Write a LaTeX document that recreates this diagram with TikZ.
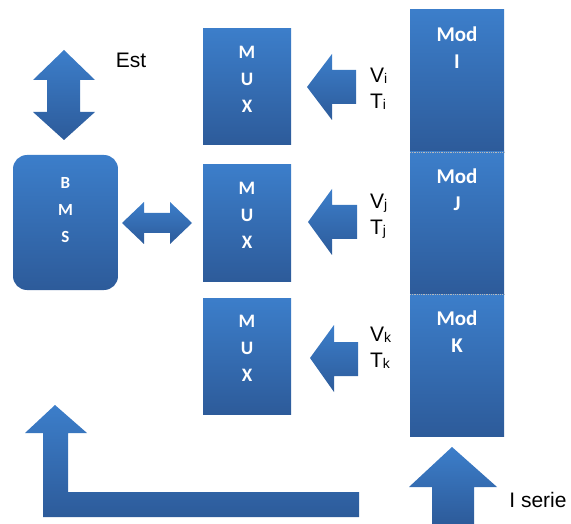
\documentclass[tikz,border=0pt]{standalone}
\usepackage{fontspec}
\setmainfont{Liberation Sans}
\newfontfamily\boxfont{Carlito}
\usetikzlibrary{positioning}
\definecolor{blocktop}{RGB}{60,126,202}
\definecolor{blockbot}{RGB}{45,91,154}
\newcommand{\smallsub}[1]{\raisebox{-1pt}{\fontsize{14}{14}\selectfont #1}}

\begin{document}
\begin{tikzpicture}[
    x=1pt, y=-1pt,
    every node/.style={inner sep=0pt, outer sep=0pt},
    block/.style={top color=blocktop, bottom color=blockbot, draw=none},
    muxbox/.style={block, minimum width=88pt, minimum height=116pt},
    modbox/.style={block, minimum width=94pt, minimum height=142pt},
    bmsbox/.style={block, rounded corners=14pt, minimum width=105pt, minimum height=135pt},
    boxtxt/.style={text=white, align=center, font=\boxfont\bfseries\fontsize{19}{27}\selectfont},
    modtxt/.style={boxtxt, font=\boxfont\bfseries\fontsize{21}{27}\selectfont},
    bmstxt/.style={boxtxt, font=\boxfont\bfseries\fontsize{17}{27}\selectfont},
    lbl/.style={text=black, align=left, font=\fontsize{21}{26}\selectfont},
    sepline/.style={densely dotted, gray!55, line width=0.8pt},
    blockarr/.style={block}
]
\useasboundingbox (0,0) rectangle (571,524);

% boxes
\node[bmsbox] (bms) at (65.5,222.5) {};
\node[muxbox] (mux1) at (247,87) {};
\node[muxbox] (mux2) at (247,223) {};
\node[muxbox] (mux3) at (247,356) {};
\node[modbox] (modI) at (457,81) {};
\node[modbox, below=0pt of modI] (modJ) {};
\node[modbox, below=0pt of modJ] (modK) {};
\draw[sepline] (modJ.north west) -- (modJ.north east);
\draw[sepline] (modK.north west) -- (modK.north east);

% box texts
\node[bmstxt, below=22pt of bms.north] (bmstxt) {B\\M\\S};
\node[boxtxt, below=17pt of mux1.north] (mux1txt) {M\\U\\X};
\node[boxtxt, below=17pt of mux2.north] (mux2txt) {M\\U\\X};
\node[boxtxt, below=17pt of mux3.north] (mux3txt) {M\\U\\X};
\node[modtxt, below=17pt of modI.north] (modItxt) {Mod\\I};
\node[modtxt, below=17pt of modJ.north] (modJtxt) {Mod\\J};
\node[modtxt, below=17pt of modK.north] (modKtxt) {Mod\\K};

% labels
\node[lbl] (est) at (131,60) {Est};
\node[lbl, anchor=north west] (vtI) at (370,68) {V\smallsub{i}\\T\smallsub{i}};
\node[lbl, anchor=north west] (vtJ) at (370,194) {V\smallsub{j}\\T\smallsub{j}};
\node[lbl, anchor=north west] (vtK) at (370,327) {V\smallsub{k}\\T\smallsub{k}};
\node[lbl] (iserie) at (538,500) {I serie};

% block arrows
\path[blockarr] (64,50) -- (33,80) -- (47,80) -- (47,112) -- (33,112) -- (64,140)
    -- (95,112) -- (80,112) -- (80,80) -- (95,80) -- cycle;
\path[blockarr] (122,223) -- (144,202) -- (144,213) -- (170,213) -- (170,202) -- (192,223)
    -- (170,244) -- (170,233) -- (144,233) -- (144,244) -- cycle;
\path[blockarr] (307,87) -- (332,54) -- (332,70) -- (356,70) -- (356,104) -- (332,104) -- (332,120) -- cycle;
\path[blockarr] (308,222) -- (332,189) -- (332,205) -- (357,205) -- (357,239) -- (332,239) -- (332,255) -- cycle;
\path[blockarr] (310,358) -- (334,325) -- (334,342) -- (358,342) -- (358,376) -- (334,376) -- (334,392) -- cycle;
\path[blockarr] (452,447) -- (497,487) -- (474,487) -- (474,524) -- (432,524) -- (432,487) -- (409,487) -- cycle;
\path[blockarr] (55,405) -- (87,433) -- (68,433) -- (68,492) -- (359,492) -- (359,517)
    -- (43,517) -- (43,433) -- (25,433) -- cycle;
\end{tikzpicture}
\end{document}
